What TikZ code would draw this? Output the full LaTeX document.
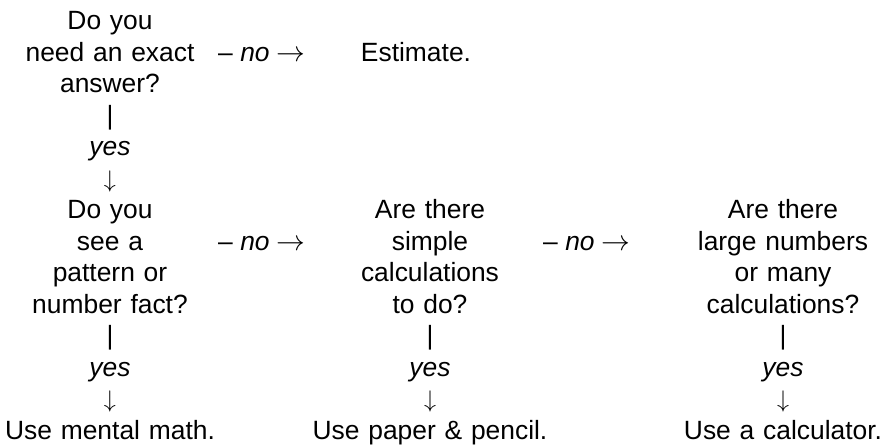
\documentclass[tikz,border=0pt]{standalone}
\usepackage{fontspec}
\setmainfont{Liberation Sans}
\usetikzlibrary{positioning}
\newcommand{\toright}{{\fontsize{15}{15.75}\selectfont$\rightarrow$}}
\newcommand{\todown}{$\downarrow$}

\begin{document}
\begin{tikzpicture}[
  x=0.5pt, y=-15.75pt,
  txt/.style={font=\fontsize{13.2}{15.75}\selectfont, inner sep=0pt,
              anchor=base, align=center, text width=140pt},
  link/.style={txt},
  nolink/.style={font=\fontsize{13.2}{15.75}\selectfont, inner sep=0pt, anchor=base}
]
  \useasboundingbox (0,0.048) rectangle (890,14.24);

  % questions
  \node[txt] (q1) at (110,1) {Do you\\need an exact\\answer?};
  \node[txt] (est) at (416,2) {Estimate.};
  \node[txt] (q2) at (110,7) {Do you\\see a\\pattern or\\number fact?};
  \node[txt] (q3) at (430,7) {Are there\\simple\\calculations\\to do?};
  \node[txt] (q4) at (783,7) {Are there\\large numbers\\or many\\calculations?};

  % answers
  \node[txt] (a2) at (q2 |- 0,14) {Use mental math.};
  \node[txt] (a3) at (q3 |- 0,14) {Use paper \& pencil.};
  \node[txt] (a4) at (q4 |- 0,14) {Use a calculator.};

  % no links
  \node[nolink] (no1) at (262,2) {-- \textit{no} \toright};
  \node[nolink] (no2) at (262,8) {-- \textit{no} \toright};
  \node[nolink] (no3) at (587,8) {-- \textit{no} \toright};

  % yes links
  \node[link] (yes1) at (q1 |- 0,4) {|\\\textit{yes}\\\todown};
  \node[link] (yes2) at (q2 |- 0,11) {|\\\textit{yes}\\\todown};
  \node[link] (yes3) at (q3 |- 0,11) {|\\\textit{yes}\\\todown};
  \node[link] (yes4) at (q4 |- 0,11) {|\\\textit{yes}\\\todown};
\end{tikzpicture}
\end{document}
